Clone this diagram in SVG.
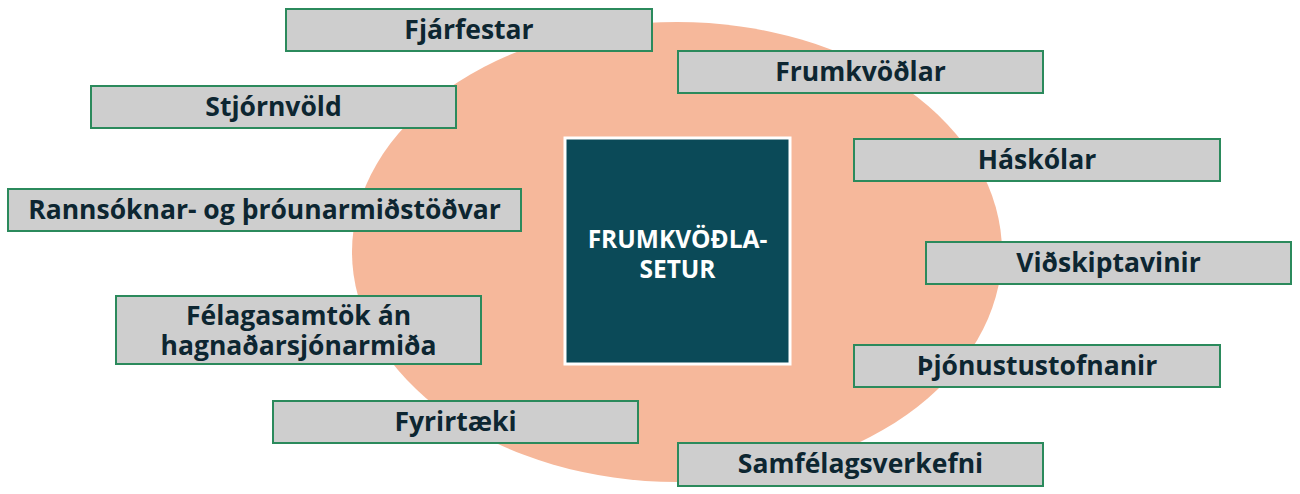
<svg xmlns="http://www.w3.org/2000/svg" width="1300" height="494" viewBox="0 0 1300 494">
<style>
.box{fill:#cecece;stroke:#2b8a5c;stroke-width:2}
.lbl{font-family:"Open Sans","Noto Sans",sans-serif;font-weight:700;font-size:26.5px;fill:#0d2631;text-anchor:middle;dominant-baseline:central}
.ctr{font-family:"Open Sans","Noto Sans",sans-serif;font-weight:700;font-size:24.5px;fill:#ffffff;text-anchor:middle}
</style>
<rect width="1300" height="494" fill="#ffffff"/>
<ellipse cx="677" cy="252" rx="325" ry="230" fill="#f6b89b"/>
<g id="connectors"></g>
<g id="center">
<rect x="565" y="138" width="225" height="226" fill="#0b4a58" stroke="#ffffff" stroke-width="3"/>
<text class="ctr" x="677.5" y="248">FRUMKVÖÐLA-</text>
<text class="ctr" x="677.5" y="278">SETUR</text>
</g>
<g id="n-fjarfestar"><rect class="box" x="286" y="9" width="366" height="42"/><text class="lbl" x="469" y="29">Fjárfestar</text></g>
<g id="n-frumkvodlar"><rect class="box" x="678" y="51" width="365" height="42"/><text class="lbl" x="860.5" y="71">Frumkvöðlar</text></g>
<g id="n-stjornvold"><rect class="box" x="91" y="86" width="365" height="42"/><text class="lbl" x="273.5" y="106">Stjórnvöld</text></g>
<g id="n-haskolar"><rect class="box" x="854" y="139" width="366" height="42"/><text class="lbl" x="1037" y="159">Háskólar</text></g>
<g id="n-rannsoknar"><rect class="box" x="8" y="189" width="513" height="42"/><text class="lbl" x="264.5" y="209">Rannsóknar- og þróunarmiðstöðvar</text></g>
<g id="n-vidskiptavinir"><rect class="box" x="926" y="242" width="365" height="42"/><text class="lbl" x="1108.5" y="262">Viðskiptavinir</text></g>
<g id="n-felagasamtok"><rect class="box" x="116" y="296" width="365" height="68"/><text class="lbl" x="298.5" y="315">Félagasamtök án</text><text class="lbl" x="298.5" y="345">hagnaðarsjónarmiða</text></g>
<g id="n-thjonustustofnanir"><rect class="box" x="854" y="345" width="366" height="42"/><text class="lbl" x="1037" y="365">Þjónustustofnanir</text></g>
<g id="n-fyrirtaeki"><rect class="box" x="273" y="401" width="365" height="42"/><text class="lbl" x="455.5" y="421">Fyrirtæki</text></g>
<g id="n-samfelagsverkefni"><rect class="box" x="678" y="443" width="365" height="43"/><text class="lbl" x="860.5" y="463">Samfélagsverkefni</text></g>
</svg>
